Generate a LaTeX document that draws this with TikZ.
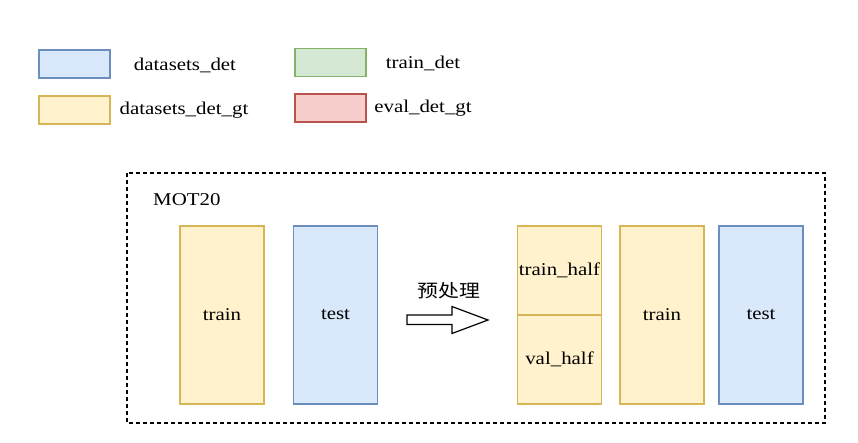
\documentclass[tikz,border=0pt]{standalone}
\usepackage{fontspec}
\setmainfont{Liberation Serif}[FakeStretch=1.16]
\newfontfamily\cjk{Noto Sans CJK SC}[FakeStretch=1.16]
\usepackage{tikz}
\usetikzlibrary{positioning}
\definecolor{detfill}{HTML}{DAE8FC}
\definecolor{detline}{HTML}{6C8EBF}
\definecolor{gtfill}{HTML}{FFF2CC}
\definecolor{gtline}{HTML}{D6B656}
\definecolor{trfill}{HTML}{D5E8D4}
\definecolor{trline}{HTML}{82B366}
\definecolor{evfill}{HTML}{F8CECC}
\definecolor{evline}{HTML}{B85450}
\tikzset{
    legbox/.style={draw, line width=1.2pt, minimum width=71pt, minimum height=28pt, inner sep=0pt},
    setbox/.style={draw, line width=1.2pt, minimum width=84pt, inner sep=0pt},
    detbox/.style={setbox, fill=detfill, draw=detline, minimum height=178pt},
    gtbox/.style={setbox, fill=gtfill, draw=gtline, minimum height=178pt},
    halfbox/.style={setbox, fill=gtfill, draw=gtline, minimum height=89pt},
}
\begin{document}
\begin{tikzpicture}[x=1pt, y=-1pt, font=\fontsize{18}{21}\selectfont]
        \useasboundingbox (0,0) rectangle (858,443);
        % legend
        \node[legbox, fill=detfill, draw=detline] (legdet) at (74.5,64) {};
        \node (legdettxt) at (185,65) {datasets\_det};
        \node[legbox, fill=gtfill, draw=gtline] (leggt) at (74.5,110) {};
        \node (leggttxt) at (184,110) {datasets\_det\_gt};
        \node[legbox, fill=trfill, draw=trline] (legtrain) at (330.5,62.5) {};
        \node (legtraintxt) at (423,63) {train\_det};
        \node[legbox, fill=evfill, draw=evline] (legeval) at (330.5,108) {};
        \node (legevaltxt) at (423,108) {eval\_det\_gt};

        % MOT20 frame
        \draw[line width=1.3pt, dash pattern=on 4pt off 3pt] (127,173) rectangle (825,423);
        \node[anchor=west, inner sep=0pt] (mot) at (153,200) {MOT20};

        \node[gtbox] (trainA) at (222,315) {train};
        \node[detbox] (testA) at (335.5,315) {test};

        % block arrow
        \draw[line width=1.2pt, fill=white, line join=miter]
            (407,315) -- (452,315) -- (452,306.5) -- (488,320) -- (452,333.5)
            -- (452,324.5) -- (407,324.5) -- cycle;
        \node[inner sep=0pt] (preptxt) at (449,291) {\cjk 预处理};

        \node[halfbox] (trainhalf) at (559.5,270.5) {train\_half};
        \node[halfbox] (valhalf) at (559.5,359.5) {val\_half};
        \node[gtbox] (trainB) at (662,315) {train};
        \node[detbox] (testB) at (761,315) {test};
    \end{tikzpicture}
\end{document}
